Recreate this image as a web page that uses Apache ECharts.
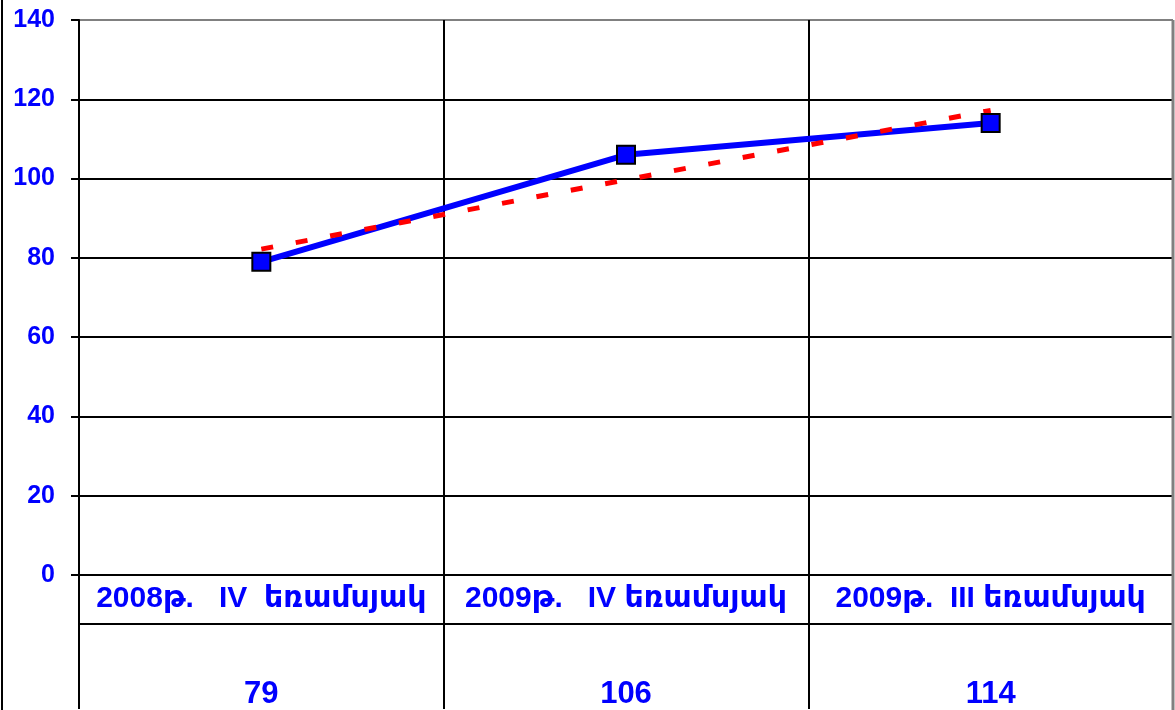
<!DOCTYPE html>
<html>
<head>
<meta charset="utf-8">
<script src="https://cdn.jsdelivr.net/npm/echarts@6/dist/echarts.min.js"></script>
<style>
  html, body { margin: 0; padding: 0; background: #fff; }
  #chart { width: 1175px; height: 710px; }
</style>
</head>
<body>
<div id="chart"></div>
<script>
// --- data ---
const categories = ['2008թ.   IV  եռամսյակ', '2009թ.   IV եռամսյակ', '2009թ.  III եռամսյակ']
const values = [79, 106, 114]
// linear trend line (red dashed)
const trendValues = [82.2, 99.7, 117.2]
const yTicks = [0, 20, 40, 60, 80, 100, 120, 140]

const blue = '#0000ff'
const font = '"Liberation Sans", Arial, "DejaVu Sans", sans-serif'

const chart = echarts.init(document.getElementById('chart'))

// grid lines: all black except the top one (gray)
const ySplitColors = yTicks.map((v, i) => (i === yTicks.length - 1 ? '#808080' : '#000'))

const option = {
  animation: false,
  grid: { left: 79, right: 2, top: 20, bottom: 134 },
  xAxis: [
    {
      type: 'category',
      data: categories,
      boundaryGap: true,
      axisLine: { show: true, lineStyle: { color: '#000', width: 2 } },
      axisTick: { show: true, interval: 0, length: 134, lineStyle: { color: '#000', width: 2 } },
      splitLine: { show: true, interval: 0, lineStyle: { color: '#000', width: 2 } },
      axisLabel: {
        interval: 0,
        margin: 9,
        color: blue,
        fontFamily: font,
        fontWeight: 'bold',
        fontSize: 30
      }
    },
    {
      // data table row with the values
      type: 'category',
      data: categories,
      position: 'bottom',
      offset: 49,
      axisLine: { show: true, lineStyle: { color: '#000', width: 2 } },
      axisTick: { show: false },
      splitLine: { show: false },
      axisLabel: {
        interval: 0,
        margin: 55,
        color: blue,
        fontFamily: font,
        fontWeight: 'bold',
        fontSize: 31,
        formatter: (v, i) => String(values[i])
      }
    }
  ],
  yAxis: {
    type: 'value',
    min: 0,
    max: 140,
    interval: 20,
    axisLine: { show: true, lineStyle: { color: '#000', width: 2 } },
    axisTick: { show: true, length: 8, lineStyle: { color: '#000', width: 2 } },
    splitLine: { show: true, lineStyle: { color: ySplitColors, width: 2 } },
    axisLabel: {
      margin: 24,
      color: blue,
      fontFamily: font,
      fontWeight: 'bold',
      fontSize: 25
    }
  },
  series: [
    {
      // main line
      type: 'line',
      data: values,
      z: 2,
      showSymbol: false,
      lineStyle: { color: blue, width: 6 },
      itemStyle: { color: blue }
    },
    {
      // trend line
      type: 'line',
      data: trendValues,
      z: 3,
      showSymbol: false,
      lineStyle: { color: '#ff0000', width: 5, type: [12, 23] },
      itemStyle: { color: '#ff0000' }
    },
    {
      // square markers on top
      type: 'scatter',
      data: values,
      z: 4,
      symbol: 'rect',
      symbolSize: 18,
      itemStyle: { color: blue, opacity: 1, borderColor: '#000', borderWidth: 2 }
    }
  ],
  graphic: [
    {
      type: 'line',
      z: 100,
      shape: { x1: 2, y1: 0, x2: 2, y2: 710 },
      style: { stroke: '#000', lineWidth: 2 }
    },
    {
      type: 'line',
      z: 100,
      shape: { x1: 1173, y1: 20, x2: 1173, y2: 710 },
      style: { stroke: '#808080', lineWidth: 3 }
    }
  ]
}

chart.setOption(option)
</script>
</body>
</html>
